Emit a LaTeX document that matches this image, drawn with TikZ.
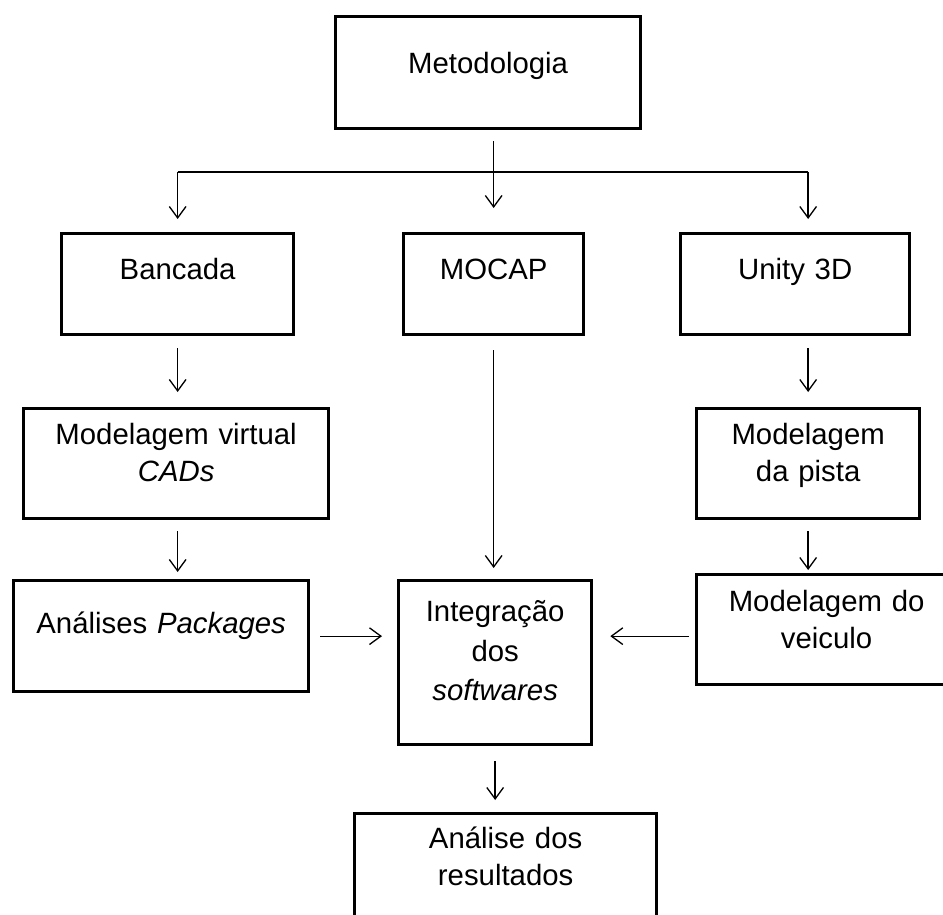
\documentclass[tikz,border=0pt]{standalone}
\usepackage{fontspec}
\setmainfont{Liberation Sans}
\usetikzlibrary{arrows.meta}

\begin{document}
\begin{tikzpicture}[x=0.02cm,y=-0.02cm,
  blk/.style={draw=black,line width=1.9pt,inner sep=0pt,anchor=north west,align=center,font=\fontsize{16.7}{21}\selectfont},
  arr/.style={-{Straight Barb[length=6.5pt,width=9.5pt]},draw=black,line width=0.75pt},
  lin/.style={-,draw=black,line width=0.75pt}]
\path[use as bounding box] (0,0) rectangle (943,915);

\node[blk,text width=6.10cm,text height=1.14cm,text depth=1.10cm] (met) at (334,15) {Metodologia};
\node[blk,text width=4.64cm,text height=0.92cm,text depth=1.10cm] (banc) at (60,232) {Bancada};
\node[blk,text width=3.60cm,text height=0.92cm,text depth=1.10cm] (mocap) at (402,232) {MOCAP};
\node[blk,text width=4.58cm,text height=0.92cm,text depth=1.10cm] (unity) at (679,232) {Unity 3D};
\node[blk,text width=6.10cm,text height=0.72cm,text depth=1.48cm] (modv) at (22,407) {Modelagem virtual\\\textit{CADs}};
\node[blk,text width=4.46cm,text height=0.72cm,text depth=1.48cm] (pista) at (695,407) {Modelagem\\da pista};
\node[blk,text width=5.90cm,text height=1.06cm,text depth=1.16cm] (anal) at (12,579) {Análises \textit{Packages}};
\node[blk,text width=3.86cm,text height=0.82cm,text depth=2.46cm,font=\fontsize{16.7}{22.5}\selectfont] (integ) at (397,579) {Integração\\dos\\\textit{softwares}};
\node[blk,text width=5.20cm,text height=0.74cm,text depth=1.46cm] (veic) at (695,573) {Modelagem do\\veiculo};
\node[blk,text width=6.04cm,text height=0.70cm,text depth=1.66cm] (res) at (353,812) {Análise dos\\resultados};

\coordinate (hub) at (493,172);

\draw[lin] (banc.north |- hub) -- (pista.north |- hub);
\draw[arr,shorten <=0.22cm,shorten >=0.48cm] (mocap.north |- met.south) -- (mocap.north);
\draw[arr,shorten >=0.26cm] (banc.north |- hub) -- (banc.north);
\draw[arr,shorten >=0.26cm] (pista.north |- hub) -- (pista.north |- unity.north);
\draw[arr,shorten <=0.24cm,shorten >=0.30cm] (banc.south) -- (banc.south |- modv.north);
\draw[arr,shorten <=0.22cm,shorten >=0.14cm] (banc.south |- modv.south) -- (banc.south |- anal.north);
\draw[arr,shorten <=0.28cm,shorten >=0.22cm] (mocap.south) -- (mocap.south |- integ.north);
\draw[arr,shorten <=0.24cm,shorten >=0.30cm] (pista.north |- unity.south) -- (pista.north);
\draw[arr,shorten <=0.22cm,shorten >=0.06cm] (pista.south) -- (pista.south |- veic.north);
\draw[arr,shorten <=0.20cm,shorten >=0.30cm] (anal.east) -- (anal.east -| integ.west);
\draw[arr,shorten <=0.12cm,shorten >=0.34cm] (veic.west |- anal.east) -- (integ.east |- anal.east);
\draw[arr,shorten <=0.30cm,shorten >=0.24cm] (integ.south) -- (integ.south |- res.north);
\end{tikzpicture}
\end{document}
